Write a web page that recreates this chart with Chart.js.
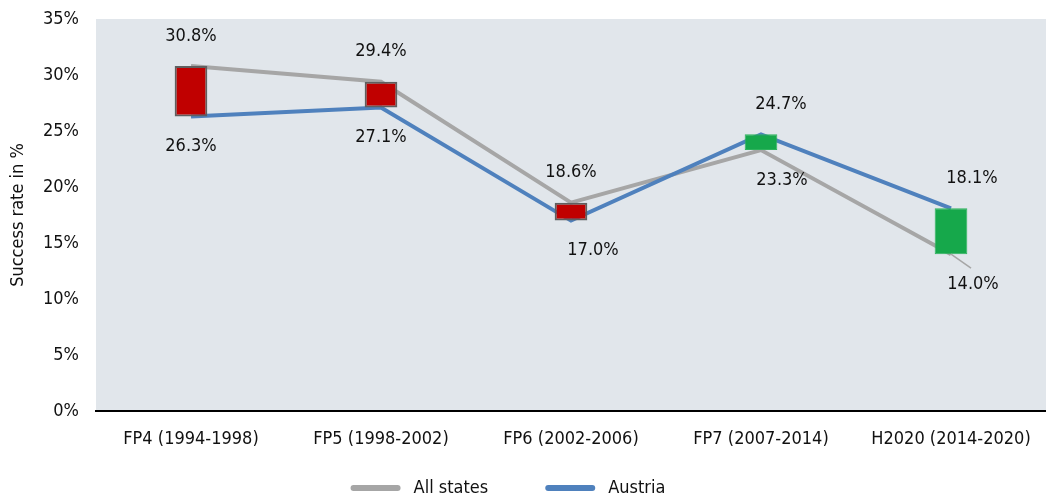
<!DOCTYPE html>
<html>
<head>
<meta charset="utf-8">
<script src="https://cdn.jsdelivr.net/npm/chart.js@4.4.1/dist/chart.umd.min.js"></script>
<style>
  html, body { margin: 0; padding: 0; background: #fff; }
  #wrap { width: 1046px; height: 501px; position: relative; }
</style>
</head>
<body>
<div id="wrap"><canvas id="chart"></canvas></div>
<script>
/* data */
const PERIODS    = ['FP4 (1994-1998)', 'FP5 (1998-2002)', 'FP6 (2002-2006)', 'FP7 (2007-2014)', 'H2020 (2014-2020)'];
const ALL_STATES = [30.8, 29.4, 18.6, 23.3, 14.0];
const AUSTRIA    = [26.3, 27.1, 17.0, 24.7, 18.1];
const Y_MIN = 0, Y_MAX = 35, Y_STEP = 5;

/* style */
const FONT     = "'DejaVu Sans Condensed', 'Liberation Sans Narrow', sans-serif";
const C_ALL    = '#a6a6a6';
const C_AT     = '#4f81bd';
const C_DOWN   = '#c00000';
const C_UP     = '#16a84b';
const PLOT_BG  = '#e1e6eb';
// small sideways nudges of the value labels (top label, bottom label)
const DX_TOP    = [0, 0, 0, 20, 21];
const DX_BOTTOM = [0, 0, 22, 21, 22];
const LEADER    = [false, false, false, false, true];

const upDown = ALL_STATES.map((v, i) => [Math.min(v, AUSTRIA[i]), Math.max(v, AUSTRIA[i])]);
const isUp   = AUSTRIA.map((v, i) => v >= ALL_STATES[i]);

const plotBg = {
  id: 'plotBg',
  beforeDraw(chart) {
    const { ctx, chartArea: a } = chart;
    ctx.save();
    ctx.fillStyle = PLOT_BG;
    ctx.fillRect(a.left, a.top, a.right - a.left, a.bottom - a.top);
    ctx.restore();
  }
};

const valueLabels = {
  id: 'valueLabels',
  afterDatasetsDraw(chart) {
    const { ctx, scales: { x, y } } = chart;
    ctx.save();
    ctx.font = `18px ${FONT}`;
    ctx.fillStyle = '#111';
    ctx.textAlign = 'center';
    ctx.textBaseline = 'middle';
    PERIODS.forEach((p, i) => {
      const hi = Math.max(ALL_STATES[i], AUSTRIA[i]);
      const lo = Math.min(ALL_STATES[i], AUSTRIA[i]);
      const cx = x.getPixelForValue(i);
      const yLo = y.getPixelForValue(lo);
      ctx.fillText(hi.toFixed(1) + '%', cx + DX_TOP[i], y.getPixelForValue(hi) - 30);
      ctx.fillText(lo.toFixed(1) + '%', cx + DX_BOTTOM[i], yLo + 30);
      if (LEADER[i]) {
        ctx.strokeStyle = C_ALL;
        ctx.lineWidth = 1.5;
        ctx.beginPath();
        ctx.moveTo(cx, yLo);
        ctx.lineTo(cx + DX_BOTTOM[i] - 2, yLo + 14);
        ctx.stroke();
      }
    });
    ctx.restore();
  }
};

// legend drawn by hand: line swatches, centred a little left of the canvas middle
const lineLegend = {
  id: 'lineLegend',
  afterDraw(chart) {
    const { ctx } = chart;
    const items = chart.data.datasets.filter(d => d.type !== 'bar');
    ctx.save();
    ctx.font = `18px ${FONT}`;
    ctx.textBaseline = 'middle';
    ctx.textAlign = 'left';
    const boxW = 50, boxH = 6, gap = 13, between = 57;
    const widths = items.map(d => boxW + gap + ctx.measureText(d.label).width);
    const total = widths.reduce((a, b) => a + b, 0) + between * (items.length - 1);
    let xPos = 508 - total / 2;
    const yMid = 488;
    items.forEach((d, i) => {
      ctx.fillStyle = d.borderColor;
      ctx.beginPath();
      ctx.roundRect(xPos, yMid - boxH / 2, boxW, boxH, 3);
      ctx.fill();
      ctx.fillStyle = '#111';
      ctx.fillText(d.label, xPos + boxW + gap, yMid);
      xPos += widths[i] + between;
    });
    ctx.restore();
  }
};

new Chart(document.getElementById('chart'), {
  type: 'line',
  data: {
    labels: PERIODS,
    datasets: [
      {
        type: 'bar',
        label: 'updown',
        data: upDown,
        backgroundColor: isUp.map(u => u ? C_UP : C_DOWN),
        borderColor: isUp.map(u => u ? '#2db35c' : '#5f5f5f'),
        borderWidth: isUp.map(u => u ? 1 : 2),
        borderSkipped: false,
        barPercentage: 0.172,
        categoryPercentage: 1,
        order: 0
      },
      {
        label: 'All states',
        data: ALL_STATES,
        borderColor: C_ALL,
        backgroundColor: C_ALL,
        borderWidth: 4,
        pointRadius: 0,
        tension: 0,
        order: 2
      },
      {
        label: 'Austria',
        data: AUSTRIA,
        borderColor: C_AT,
        backgroundColor: C_AT,
        borderWidth: 4,
        pointRadius: 0,
        tension: 0,
        order: 1
      }
    ]
  },
  options: {
    responsive: true,
    maintainAspectRatio: false,
    animation: false,
    layout: { padding: { top: 19, right: -9, bottom: 0, left: 0 } },
    scales: {
      x: {
        grid: { display: false, drawTicks: false },
        border: { display: true, color: '#000', width: 2 },
        ticks: { color: '#111', font: { family: FONT, size: 18 }, padding: 18, maxRotation: 0, autoSkip: false },
        afterFit(scale) {
          scale.height = 90;
          scale.paddingRight = 0;
        }
      },
      y: {
        min: Y_MIN, max: Y_MAX,
        grid: { display: false, drawTicks: false },
        border: { display: false },
        ticks: { stepSize: Y_STEP, color: '#111', font: { family: FONT, size: 18 }, padding: 17,
                 callback: v => v + '%' },
        title: { display: true, text: 'Success rate in %', color: '#111',
                 font: { family: FONT, size: 18 }, padding: { top: 8, bottom: 0 } },
        afterFit(scale) {
          scale.width = 96;
          scale.paddingTop = 0;
          scale.paddingBottom = 0;
        }
      }
    },
    plugins: {
      legend: { display: false },
      tooltip: { enabled: false }
    }
  },
  plugins: [plotBg, valueLabels, lineLegend]
});
</script>
</body>
</html>
